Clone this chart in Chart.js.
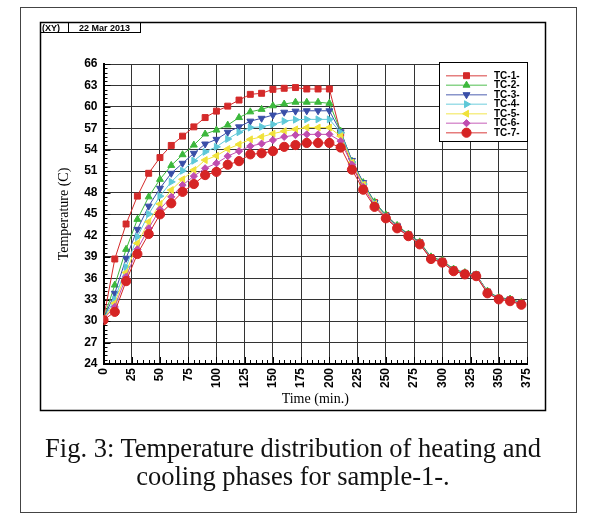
<!DOCTYPE html>
<html>
<head>
<meta charset="utf-8">
<script src="https://cdn.jsdelivr.net/npm/chart.js@4.4.0/dist/chart.umd.min.js"></script>
<style>
  html, body { margin: 0; padding: 0; background: #fff; }
  #wrap { position: relative; width: 595px; height: 520px; }
  #chart { position: absolute; left: 0; top: 0; }
  .caption {
    position: absolute; left: 0; top: 434px; width: 586px;
    text-align: center; color: #111;
    font-family: 'Liberation Serif', 'Times New Roman', serif;
    font-size: 26.5px; line-height: 28px;
  }
</style>
</head>
<body>
<div id="wrap">
  <canvas id="chart" width="595" height="520"></canvas>
  <div class="caption">Fig. 3: Temperature distribution of heating and<br>cooling phases for sample-1-.</div>
</div>
<script>
// time in minutes (heating 0-200, cooling 210-370)
const times = [0, 10, 20, 30, 40, 50, 60, 70, 80, 90, 100, 110, 120, 130, 140, 150, 160, 170, 180, 190, 200,
  210, 220, 230, 240, 250, 260, 270, 280, 290, 300, 310, 320, 330, 340, 350, 360, 370];

const tc1 = [30.3, 38.7, 43.6, 47.5, 50.7, 52.9, 54.6, 55.9, 57.2, 58.5, 59.4, 60.1, 60.95, 61.75, 61.9, 62.45, 62.6, 62.7, 62.5, 62.5, 62.5,
  56.3, 51.6, 49.0, 46.6, 44.8, 43.3, 42.1, 41.0, 38.9, 38.4, 37.2, 36.7, 36.5, 34.1, 33.2, 33.0, 32.5];
const tc2 = [30.3, 35.05, 40.05, 44.25, 47.4, 49.85, 51.8, 53.3, 54.65, 56.2, 56.75, 57.45, 58.5, 59.3, 59.65, 60.15, 60.4, 60.65, 60.65, 60.65, 60.5,
  56.6, 52.4, 49.4, 46.7, 44.9, 43.4, 42.2, 41.1, 39.0, 38.5, 37.3, 36.8, 36.5, 34.2, 33.3, 33.1, 32.6];
const tc3 = [30.3, 33.9, 38.8, 42.85, 46.1, 48.6, 50.7, 52.1, 53.5, 54.8, 55.45, 56.45, 57.2, 58.0, 58.4, 58.85, 59.25, 59.4, 59.45, 59.45, 59.45,
  56.5, 52.5, 49.4, 46.6, 44.8, 43.3, 42.1, 41.0, 38.9, 38.4, 37.2, 36.7, 36.5, 34.1, 33.2, 33.0, 32.5];
const tc4 = [30.3, 33.05, 37.6, 41.8, 45.0, 47.5, 49.5, 51.05, 52.45, 53.7, 54.4, 55.5, 56.45, 57.1, 57.2, 57.55, 58.0, 58.2, 58.25, 58.25, 58.25,
  56.4, 52.3, 49.2, 46.5, 44.7, 43.2, 42.0, 40.9, 38.85, 38.35, 37.15, 36.65, 36.45, 34.05, 33.15, 32.95, 32.45];
const tc5 = [30.3, 32.5, 36.8, 40.9, 43.9, 46.4, 48.35, 49.85, 51.15, 52.55, 53.15, 54.1, 54.75, 55.45, 55.8, 56.25, 56.6, 56.85, 57.1, 57.1, 57.1,
  55.9, 52.2, 49.1, 46.4, 44.6, 43.15, 41.95, 40.85, 38.8, 38.3, 37.1, 36.6, 36.4, 34.0, 33.1, 32.9, 32.4];
const tc6 = [30.3, 32.0, 36.2, 40.05, 43.0, 45.65, 47.4, 49.05, 50.3, 51.4, 52.1, 53.1, 53.8, 54.5, 54.85, 55.35, 55.8, 56.05, 56.15, 56.15, 56.15,
  55.2, 51.9, 48.8, 46.2, 44.5, 43.1, 41.95, 40.8, 38.75, 38.25, 37.05, 36.6, 36.35, 33.95, 33.1, 32.85, 32.35];
const tc7 = [30.15, 31.3, 35.6, 39.4, 42.2, 44.95, 46.5, 48.1, 49.2, 50.45, 50.9, 51.9, 52.4, 53.35, 53.5, 53.8, 54.4, 54.65, 54.95, 54.95, 54.95,
  54.3, 51.2, 48.4, 46.0, 44.4, 43.0, 41.9, 40.75, 38.7, 38.2, 37.0, 36.55, 36.3, 33.9, 33.05, 32.8, 32.3];

const seriesNames = ['TC-1-', 'TC-2-', 'TC-3-', 'TC-4-', 'TC-5-', 'TC-6-', 'TC-7-'];
const seriesValues = [tc1, tc2, tc3, tc4, tc5, tc6, tc7];

const xMin = 0, xMax = 375, xStep = 25;
const yMin = 24, yMax = 66, yStep = 3;

const colors = ['#d42a2a', '#3cb83c', '#3a4fa8', '#5ec8d8', '#f0e23a', '#c04db0', '#d62424'];
const pointStyles = ['rect', 'triangle', 'triangle', 'triangle', 'triangle', 'rectRot', 'circle'];
const rotations = [0, 0, 180, 90, 270, 0, 0];
const radii = [4.2, 4, 4, 4, 4, 3.6, 4.6];

const datasets = seriesNames.map((name, i) => ({
  label: name,
  data: times.map((t, j) => ({ x: t, y: seriesValues[i][j] })),
  borderColor: colors[i],
  backgroundColor: colors[i],
  pointStyle: pointStyles[i],
  pointRotation: rotations[i],
  pointRadius: radii[i],
  pointBorderWidth: 1,
  borderWidth: 1,
  tension: 0,
  order: seriesNames.length - i
}));

// frame, header and inward minor ticks
const decorations = {
  id: 'decorations',
  beforeDraw(chart) {
    const ctx = chart.ctx;
    ctx.save();
    ctx.fillStyle = '#fff';
    ctx.fillRect(0, 0, chart.width, chart.height);
    ctx.strokeStyle = '#444';
    ctx.lineWidth = 1;
    ctx.strokeRect(20.5, 7.5, 556, 505);
    ctx.strokeStyle = '#000';
    ctx.lineWidth = 1.5;
    ctx.strokeRect(40.5, 22.5, 505, 388);
    ctx.lineWidth = 1;
    ctx.beginPath();
    ctx.moveTo(40, 32.5); ctx.lineTo(141, 32.5);
    ctx.moveTo(68.5, 22); ctx.lineTo(68.5, 32.5);
    ctx.moveTo(140.5, 22); ctx.lineTo(140.5, 32.5);
    ctx.stroke();
    ctx.fillStyle = '#000';
    ctx.font = 'bold 9px "Liberation Sans", Arial, sans-serif';
    ctx.textBaseline = 'alphabetic';
    ctx.fillText('(XY)', 42, 31);
    ctx.fillText('22 Mar 2013', 79, 31);
    ctx.restore();
  },
  beforeDatasetsDraw(chart) {
    const { ctx, scales: { x, y }, chartArea: a } = chart;
    ctx.save();
    ctx.strokeStyle = '#000';
    ctx.lineWidth = 1;
    ctx.beginPath();
    for (let k = 0; k <= (yMax - yMin) / yStep * 5; k++) {
      const v = yMin + k * yStep / 5;
      const py = Math.round(y.getPixelForValue(v)) + 0.5;
      const len = k % 5 === 0 ? 7 : 4;
      ctx.moveTo(a.left, py); ctx.lineTo(a.left + len, py);
    }
    for (let k = 0; k <= (xMax - xMin) / xStep * 5; k++) {
      const v = xMin + k * xStep / 5;
      const px = Math.round(x.getPixelForValue(v)) + 0.5;
      const len = k % 5 === 0 ? 7 : 4;
      ctx.moveTo(px, a.bottom); ctx.lineTo(px, a.bottom - len);
    }
    ctx.stroke();
    ctx.restore();
  }
};

// boxed legend in the top right corner of the plot
const boxLegend = {
  id: 'boxLegend',
  afterDraw(chart) {
    const { ctx, chartArea: a } = chart;
    const w = 88, h = 79;
    const left = a.right - w, top = a.top - 2;
    ctx.save();
    ctx.fillStyle = '#fff';
    ctx.fillRect(left, top, w, h);
    ctx.strokeStyle = '#000';
    ctx.lineWidth = 1;
    ctx.strokeRect(left + 0.5, top + 0.5, w, h);
    chart.data.datasets.forEach((ds, i) => {
      const yy = top + 13.7 + i * 9.5;
      const x0 = left + 7, x1 = x0 + 41;
      ctx.globalAlpha = 0.6;
      ctx.strokeStyle = ds.borderColor;
      ctx.lineWidth = 1.5;
      ctx.beginPath(); ctx.moveTo(x0, yy); ctx.lineTo(x1, yy); ctx.stroke();
      ctx.globalAlpha = 1;
      ctx.fillStyle = ds.backgroundColor;
      ctx.strokeStyle = ds.borderColor;
      ctx.lineWidth = 1;
      Chart.helpers.drawPoint(ctx, {
        pointStyle: ds.pointStyle, rotation: ds.pointRotation,
        radius: ds.pointRadius, borderWidth: 1
      }, (x0 + x1) / 2, yy);
      ctx.fillStyle = '#000';
      ctx.font = 'bold 10px "Liberation Sans", Arial, sans-serif';
      ctx.textBaseline = 'middle';
      ctx.fillText(ds.label, x1 + 7, yy + 0.5);
    });
    ctx.restore();
  }
};

const tickFont = { family: '"Liberation Sans", Arial, sans-serif', size: 12, weight: 'bold' };
const titleFont = { family: '"Liberation Serif", "Times New Roman", serif', size: 14 };

new Chart(document.getElementById('chart'), {
  type: 'line',
  data: { datasets: datasets },
  options: {
    responsive: false,
    animation: false,
    devicePixelRatio: 1,
    layout: { padding: { left: 40, top: 64, right: 68, bottom: 106 } },
    plugins: { legend: { display: false }, tooltip: { enabled: false } },
    scales: {
      x: {
        type: 'linear', min: xMin, max: xMax,
        afterFit: s => { s.height = 50; },
        ticks: { stepSize: xStep, autoSkip: false, minRotation: 90, maxRotation: 90, padding: 4, color: '#000', font: tickFont },
        grid: { color: '#333', lineWidth: 1, drawTicks: false },
        border: { color: '#000', width: 2 },
        title: { display: true, text: 'Time (min.)', color: '#000', font: titleFont, padding: { top: 0, bottom: 6 } }
      },
      y: {
        type: 'linear', min: yMin, max: yMax,
        afterFit: s => { s.width = 63.5; },
        ticks: { stepSize: yStep, autoSkip: false, padding: 6, color: '#000', font: tickFont },
        grid: { color: '#333', lineWidth: 1, drawTicks: false },
        border: { color: '#000', width: 2 },
        title: { display: true, text: 'Temperature (C)', color: '#000', font: titleFont, padding: { top: 16, bottom: 0 } }
      }
    }
  },
  plugins: [decorations, boxLegend]
});
</script>
</body>
</html>
